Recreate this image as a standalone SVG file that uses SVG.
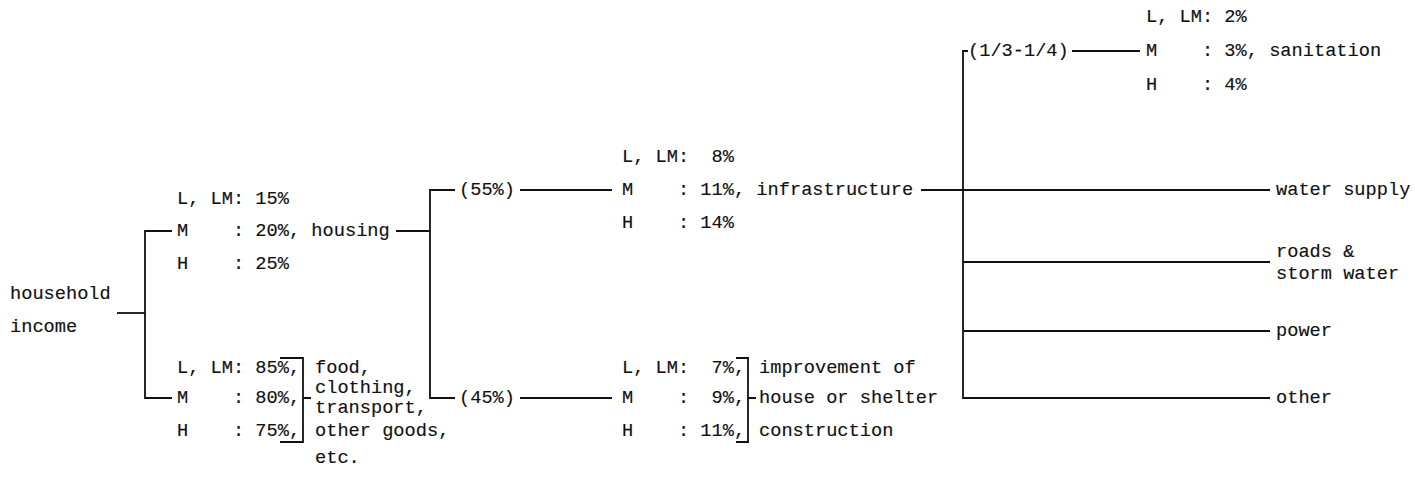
<svg xmlns="http://www.w3.org/2000/svg" width="1415" height="494" viewBox="0 0 1415 494" xml:space="preserve">
<style>
text{font-family:"Liberation Mono","Courier New",monospace;font-size:18.67px;fill:#111;white-space:pre;stroke:#111;stroke-width:0.15}
.c line,.c path,.b path{stroke:#111;stroke-width:1.8;fill:none}
</style>
<rect width="1415" height="494" fill="#fff"/>
<g id="connectors" class="c">
<line x1="117" y1="313" x2="145" y2="313"/>
<path d="M172,231 H145 V398 H172"/>
<line x1="396" y1="231" x2="430" y2="231"/>
<path d="M455,190 H430 V398 H455"/>
<line x1="520" y1="190" x2="612" y2="190"/>
<line x1="520" y1="398" x2="612" y2="398"/>
<line x1="921" y1="190" x2="1270" y2="190"/>
<path d="M968,51 H963 V398 H1270"/>
<line x1="1072" y1="51" x2="1140" y2="51"/>
<line x1="963" y1="262" x2="1270" y2="262"/>
<line x1="963" y1="331" x2="1270" y2="331"/>
<text x="459" y="195">(55%)</text>
<text x="459" y="403">(45%)</text>
<text x="968" y="56">(1/3-1/4)</text>
</g>
<g id="household"><text x="10" y="299">household</text><text x="10" y="332">income</text></g>
<g id="housing">
<text x="177" y="204">L, LM: 15%</text>
<text x="177" y="236">M    : 20%, housing</text>
<text x="177" y="269">H    : 25%</text>
</g>
<g id="consumption" class="b">
<text x="177" y="373">L, LM: 85%,</text>
<text x="177" y="403">M    : 80%,</text>
<text x="177" y="436">H    : 75%,</text>
<path d="M280,358 H303 V442 H280 M303,398 H311"/>
<text x="315" y="373">food,</text>
<text x="315" y="393">clothing,</text>
<text x="315" y="413">transport,</text>
<text x="315" y="436">other goods,</text>
<text x="315" y="463">etc.</text>
</g>
<g id="infrastructure">
<text x="622" y="162">L, LM:  8%</text>
<text x="622" y="195">M    : 11%, infrastructure</text>
<text x="622" y="228">H    : 14%</text>
</g>
<g id="shelter" class="b">
<text x="622" y="373">L, LM:  7%,</text>
<text x="622" y="403">M    :  9%,</text>
<text x="622" y="436">H    : 11%,</text>
<path d="M736,358 H748 V442 H736 M748,398 H756"/>
<text x="759" y="373">improvement of</text>
<text x="759" y="403">house or shelter</text>
<text x="759" y="436">construction</text>
</g>
<g id="sanitation">
<text x="1146" y="22">L, LM: 2%</text>
<text x="1146" y="56">M    : 3%, sanitation</text>
<text x="1146" y="90">H    : 4%</text>
</g>
<g id="water-supply"><text x="1276" y="195">water supply</text></g>
<g id="roads"><text x="1276" y="257">roads &amp;</text><text x="1276" y="279">storm water</text></g>
<g id="power"><text x="1276" y="336">power</text></g>
<g id="other"><text x="1276" y="403">other</text></g>
</svg>
